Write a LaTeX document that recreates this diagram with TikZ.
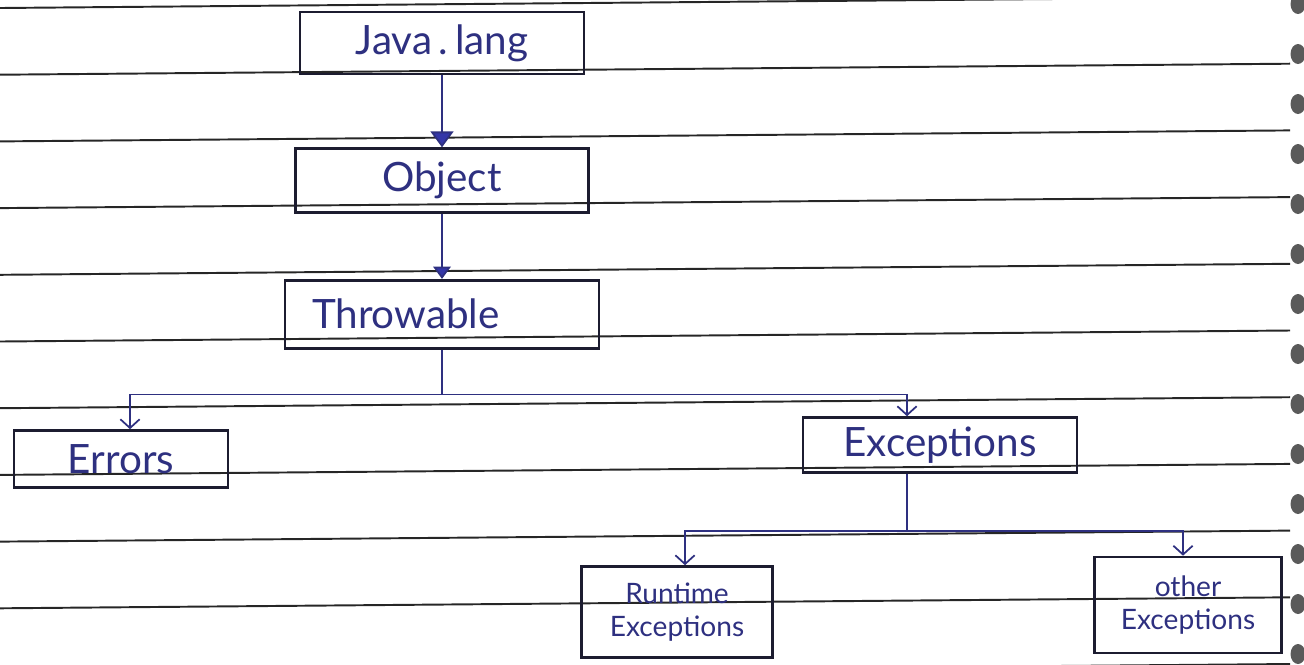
\documentclass[tikz,border=0pt]{standalone}
\usepackage{fontspec}
\setmainfont{Lato}
\usetikzlibrary{arrows.meta,positioning}
\definecolor{inkblue}{HTML}{2E3080}
\definecolor{boxink}{HTML}{1C1C30}
\definecolor{ruleink}{HTML}{262626}
\definecolor{tipblue}{HTML}{3436A8}
\definecolor{ringgray}{HTML}{5A5A5A}

\begin{document}
\begin{tikzpicture}[
    x=0.02cm, y=-0.02cm,
    rule/.style={ruleink, line width=1.1pt},
    cls/.style={draw=boxink, line width=1.5pt, text=inkblue,
                font=\fontsize{23}{26}\selectfont, inner sep=1pt},
    leaf/.style={cls, align=center, font=\fontsize{16}{19}\selectfont},
    link/.style={inkblue, line width=1pt},
    tri/.style={link, -{Triangle[length=9pt,width=13pt,fill=tipblue]}},
    barb/.style={link, -{Straight Barb[length=5pt,width=11pt]}},
]
\clip (0,0) rectangle (1304,664);

% Ruled paper
\foreach \i in {0,...,10}
  \draw[rule] (0,{8+66.7*\i}) -- (1290,{-3+66.7*\i});
\foreach \i in {0,...,13}
  \fill[ringgray] (1298,{4+50*\i}) ellipse [x radius=0.15cm, y radius=0.2cm];

% Class nodes
\node[cls, minimum width=5.68cm, minimum height=1.24cm] (jl) at (442,43) {Java\,.\,lang};
\node[cls, minimum width=5.86cm, minimum height=1.28cm, below=1.44cm of jl] (obj) {Object};
\node[cls, minimum height=1.36cm, inner xsep=0.54cm, text width=5.2cm,
      align=left, below=1.3cm of obj] (thr) {Throwable};
\node[cls, minimum width=4.28cm, minimum height=1.14cm] (err) at (121,459) {Errors};
\node[cls, minimum width=5.48cm, minimum height=1.1cm] (exc) at (940,445) {Exceptions};
\node[leaf, minimum width=3.82cm, minimum height=1.82cm] (rte) at (677,612) {Runtime\\Exceptions};
\node[leaf, minimum width=3.74cm, minimum height=1.92cm] (oth) at (1188,605) {other\\Exceptions};

% Inheritance links
\draw[tri] (jl.south) -- (obj.north);
\draw[tri, -{Triangle[length=7pt,width=10pt,fill=tipblue]}] (obj.south) -- (thr.north);

\path (thr.south) ++(0,45) coordinate (tj);
\draw[link] (thr.south) -- (tj);
\draw[barb] (tj) -| ([xshift=0.18cm]err.north);
\draw[barb] (tj) -| ([xshift=-0.66cm]exc.north);

\path ([xshift=-0.66cm]exc.south) ++(0,57) coordinate (ej);
\draw[link] ([xshift=-0.66cm]exc.south) -- (ej);
\draw[barb] (ej) -| ([xshift=0.16cm]rte.north);
\draw[barb] (ej) -| ([xshift=-0.1cm]oth.north);
\end{tikzpicture}
\end{document}
